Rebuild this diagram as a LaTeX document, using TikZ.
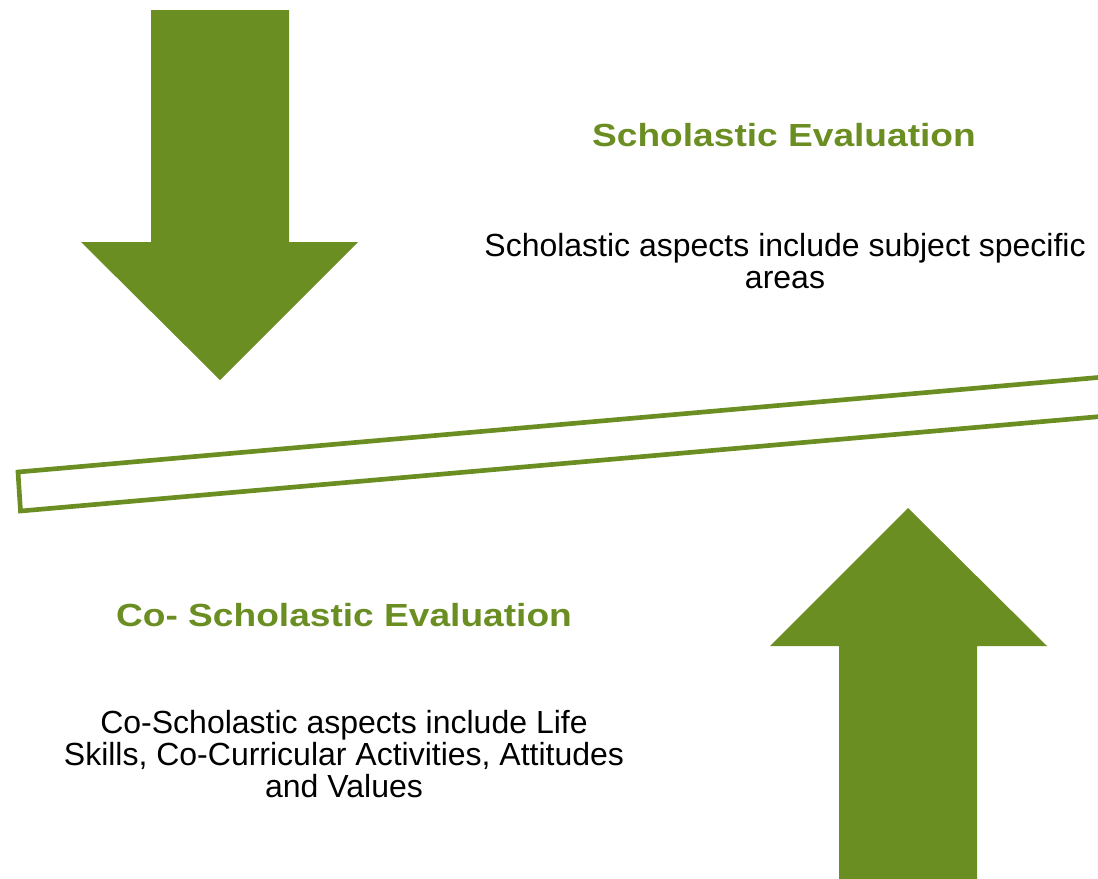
\documentclass[tikz,border=0pt]{standalone}
\usepackage{fontspec}
\setmainfont{Liberation Sans}
\newfontfamily\headfont[FakeStretch=1.16]{Liberation Sans Bold}
\definecolor{leaf}{HTML}{6B8E23}
\begin{document}
\begin{tikzpicture}[x=0.75pt,y=-0.75pt,
  bigarrow/.style={fill=leaf,draw=none},
  beam/.style={draw=leaf,line width=3.5pt,fill=white,line join=miter},
  heading/.style={inner sep=0pt,anchor=base,text=leaf,font=\headfont\fontsize{24}{24}\selectfont},
  body/.style={inner sep=0pt,anchor=base,align=center,font=\fontsize{24}{24}\selectfont}]
  \useasboundingbox (0,0) rectangle (1098,878);
  \clip (0,0) rectangle (1098,878);

  % downward arrow pressing on the left end
  \fill[bigarrow] (151,10) -- (289,10) -- (289,242) -- (358,242)
    -- (220,380) -- (81,242) -- (151,242) -- cycle;

  % upward arrow pushing the right end
  \fill[bigarrow] (839,890) -- (839,646) -- (770,646) -- (908,508)
    -- (1047,646) -- (977,646) -- (977,890) -- cycle;

  % tilted beam of the balance
  \coordinate (tl) at (18,472);
  \coordinate (bl) at (20.5,511);
  \coordinate (br) at (1215.9,406.4);
  \coordinate (tr) at (1213.4,367.4);
  \draw[beam] (tl) -- (bl) -- (br) -- (tr) -- cycle;

  % labels (base anchor sits on the last line of a multi-line node)
  \node[heading] (sch) at (784,146) {Scholastic Evaluation};
  \node[body] (schtxt) at (785,288) {Scholastic aspects include subject specific\\areas};
  \node[heading] (cosch) at (344,626) {Co- Scholastic Evaluation};
  \node[body] (coschtxt) at (344,797) {Co-Scholastic aspects include Life\\Skills, Co-Curricular Activities, Attitudes\\and Values};
\end{tikzpicture}
\end{document}
